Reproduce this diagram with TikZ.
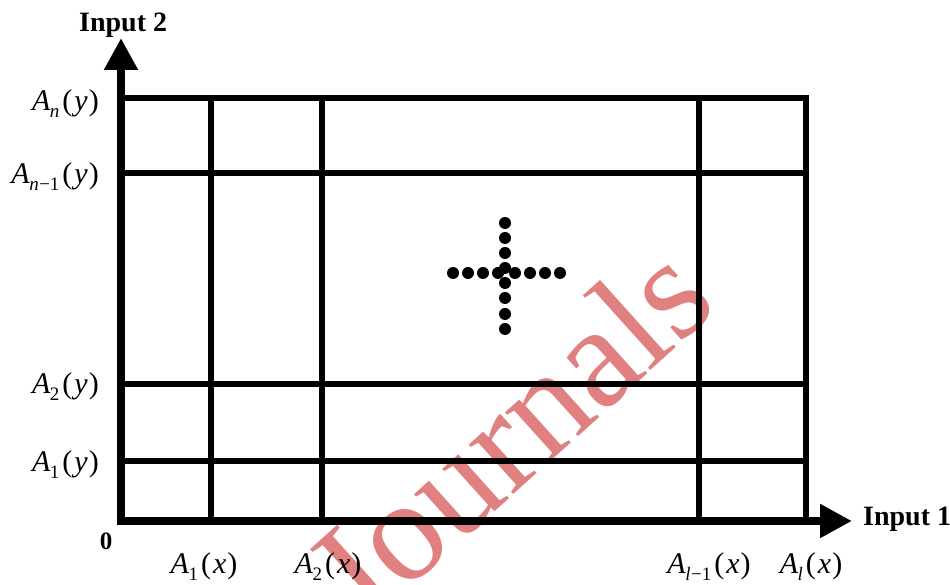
\documentclass[tikz,border=0pt]{standalone}
\usepackage{fontspec}
\setmainfont{Liberation Serif}
\usetikzlibrary{arrows.meta}
\definecolor{wmred}{RGB}{224,128,128}
\newcommand{\axlab}[3]{\textit{A}\kern-0.5pt\raisebox{-6.5pt}{\fontsize{19}{19}\selectfont #2}\kern3pt(\kern2pt\textit{#3}\kern1pt)}
\begin{document}
\begin{tikzpicture}[x=1pt,y=1pt,
  axis/.style={line width=8pt, -{Triangle[length=32pt,width=32pt]}},
  gridline/.style={line width=5.5pt},
  ylab/.style={anchor=base east, font=\fontsize{30}{30}\selectfont, inner sep=0pt},
  xlab/.style={anchor=base, font=\fontsize{30}{30}\selectfont, inner sep=0pt},
  axtitle/.style={anchor=base west, font=\bfseries\fontsize{28}{28}\selectfont, inner sep=0pt},
  dotmark/.style={circle, fill=black, minimum size=12pt, inner sep=0pt}]
\useasboundingbox (0,0) rectangle (950,585);
% watermark
\begin{scope}
\clip (0,0) rectangle (950,585);
\node[rotate=42, text=wmred, font=\fontsize{145}{145}\selectfont, inner sep=0pt] (wm) at (508,152) {Journals};
\end{scope}
% grid
\coordinate (O) at (121,64);
\coordinate (TR) at (806,487);
\draw[gridline] (O) rectangle (TR);
\foreach \yy/\nm in {412/h2, 201/h3, 124/h4} {
  \coordinate (\nm L) at (121,\yy);
  \coordinate (\nm R) at (806,\yy);
  \draw[gridline] (\nm L) -- (\nm R);
}
\foreach \xx/\nm in {211/v1, 322/v2, 699/v3} {
  \coordinate (\nm B) at (\xx,64);
  \coordinate (\nm T) at (\xx,487);
  \draw[gridline] (\nm B) -- (\nm T);
}
% axes
\coordinate (xstart) at (117,64);
\coordinate (xtip) at (852,64);
\coordinate (ystart) at (121,60);
\coordinate (ytip) at (121,547);
\draw[axis] (xstart) -- (xtip);
\draw[axis] (ystart) -- (ytip);
% dotted cross
\foreach \xx [count=\i] in {453,468,483,498,515,530,545,560} {
  \node[dotmark] (dh\i) at (\xx,312) {};
}
\foreach \yy [count=\i] in {362,347,332,317,302,287,271,256} {
  \node[dotmark] (dv\i) at (505,\yy) {};
}
% y labels
\node[ylab] (lan) at (99,474) {\axlab{A}{\textit{n}}{y}};
\node[ylab] (lan1) at (99,401) {\axlab{A}{\textit{n}\kern0.5pt−1}{y}};
\node[ylab] (la2y) at (99,191) {\axlab{A}{2}{y}};
\node[ylab] (la1y) at (99,113) {\axlab{A}{1}{y}};
% x labels
\node[xlab] (la1x) at (204,11) {\axlab{A}{1}{x}};
\node[xlab] (la2x) at (328,11) {\axlab{A}{2}{x}};
\node[xlab] (lalm) at (709,11) {\axlab{A}{\textit{l}\kern0.5pt−1}{x}};
\node[xlab] (lal) at (811,11) {\axlab{A}{\textit{l}}{x}};
% titles
\node[anchor=base, font=\bfseries\fontsize{25}{25}\selectfont, inner sep=0pt] (zero) at (106,35) {0};
\node[axtitle] (in2) at (79,553) {Input 2};
\node[axtitle] (in1) at (863,59) {Input 1};
\end{tikzpicture}
\end{document}
